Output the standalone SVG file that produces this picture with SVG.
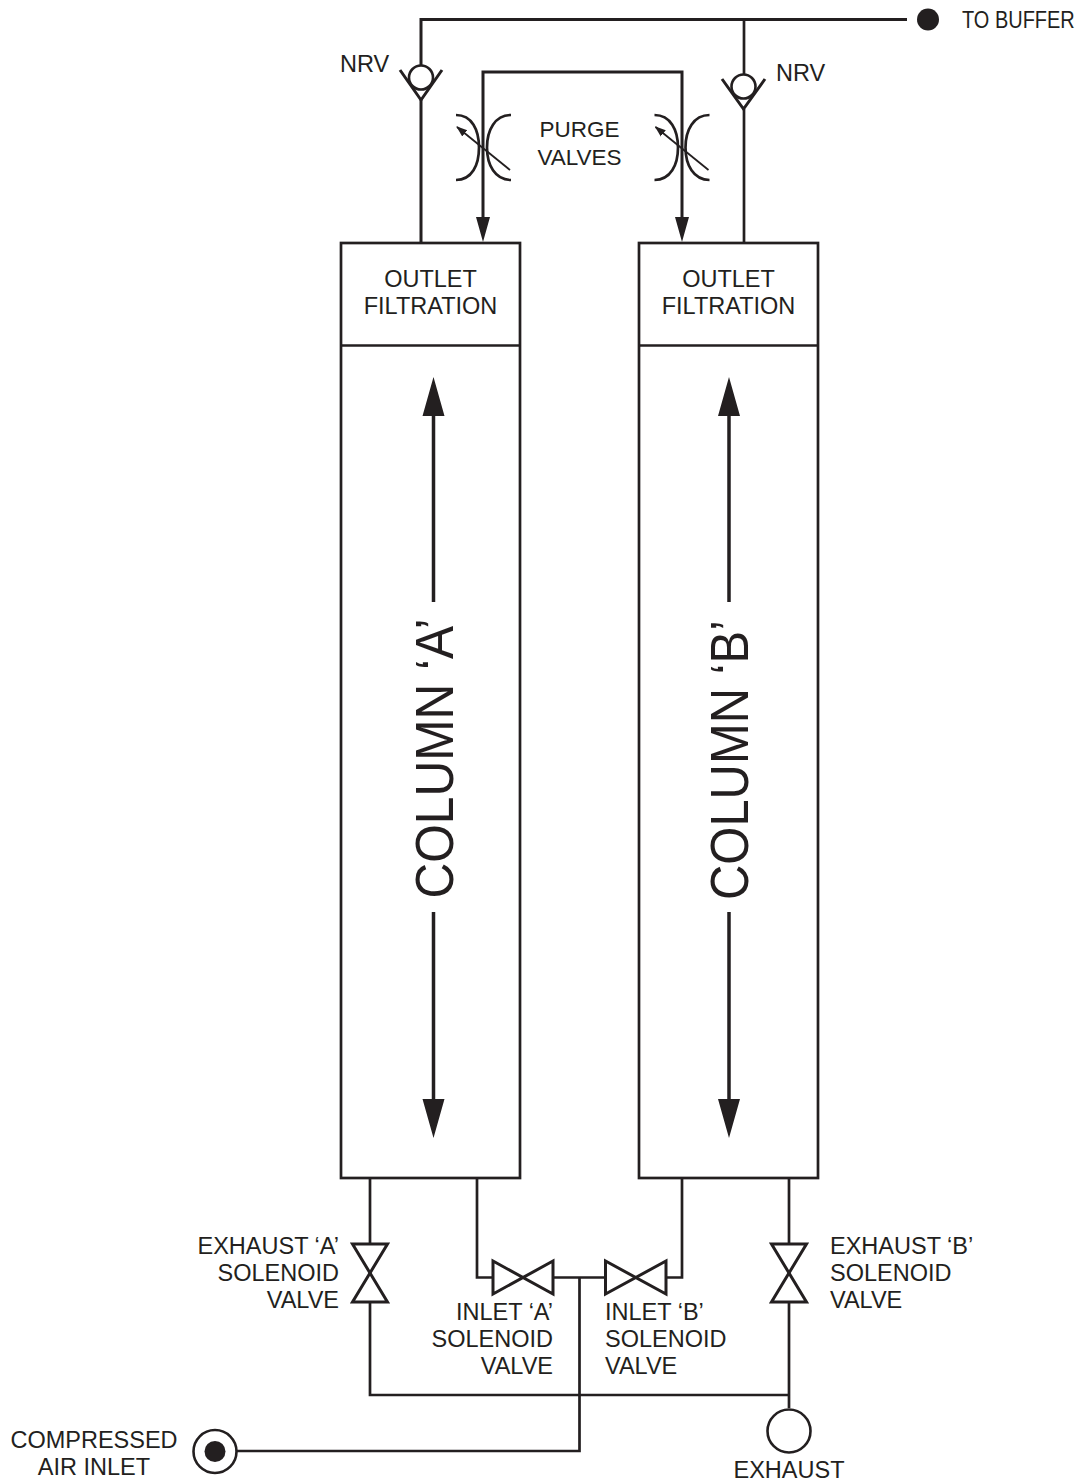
<svg xmlns="http://www.w3.org/2000/svg" width="1081" height="1483" viewBox="0 0 1081 1483">
<style>
text{font-family:"Liberation Sans",Arial,sans-serif;font-size:23.5px;fill:#231f20}
.e{text-anchor:end}.m{text-anchor:middle}
.p{font-size:22.5px}
.col{font-size:53px;text-anchor:middle}
.l{fill:none;stroke:#231f20;stroke-width:2.7}
.t{fill:none;stroke:#231f20;stroke-width:3}
.s{fill:none;stroke:#231f20;stroke-width:3.5}
.v{fill:#fff;stroke:#231f20;stroke-width:3;stroke-linejoin:miter}
.k{fill:#231f20;stroke:none}
.th{fill:none;stroke:#231f20;stroke-width:1.8}
.c{fill:#fff;stroke:#231f20;stroke-width:2.6}
</style>
<defs>
<marker id="sm" markerUnits="userSpaceOnUse" markerWidth="11" markerHeight="10" refX="10" refY="4.500" orient="auto" viewBox="0 0 11 9"><path d="M0 .5L11 4.500L0 8.500Z" fill="#231f20"/></marker>
</defs>
<g id="connectors">
<path class="t" d="M421 243V100M421 66V19.500H907"/>
<path class="l" d="M744 19.500V74M744 109V243"/>
<path class="t" d="M483 220V72H682V220"/>
<path class="k" d="M476 217H490L483 242ZM675 217H689L682 242Z"/>
<path class="l" d="M370 1178V1395H790M789 1178V1408"/>
<path class="l" d="M477 1178V1277.500H493M553 1277.500H605M666 1277.500H682V1178"/>
<path class="l" d="M579.500 1277.500V1451H237"/>
<path class="s" d="M433.500 394V602M433.500 912V1120M729 394V602M729 912V1120"/>
<path class="k" d="M433.500 377L444.500 416H422.500ZM433.500 1138L444.500 1099H422.500ZM729 377L740 416H718ZM729 1138L740 1099H718Z"/>
</g>
<g id="buffer-port"><circle class="k" cx="928" cy="19.500" r="11"/><text transform="translate(962 28) scale(.85 1)">TO BUFFER</text></g>
<g id="nrv-a"><path class="t" d="M400 70L421 100L442 70"/><circle class="c" cx="421" cy="77.500" r="12"/><text x="340" y="72">NRV</text></g>
<g id="nrv-b"><path class="t" d="M722 79L743.500 109L765 79"/><circle class="c" cx="743.500" cy="86.500" r="12"/><text x="776" y="81">NRV</text></g>
<g id="purge-a"><path class="l" d="M456 115C472 115 479 130 479 147.500C479 165 472 180 456 180M511 115C495 115 487 130 487 147.500C487 165 495 180 511 180"/><path class="th" d="M510 170L457 127" marker-end="url(#sm)"/></g>
<g id="purge-b"><path class="l" d="M654.500 115C670.500 115 678 130 678 147.500C678 165 670.500 180 654.500 180M709.500 115C693.500 115 685.500 130 685.500 147.500C685.500 165 693.500 180 709.500 180"/><path class="th" d="M708.500 170L655.500 127" marker-end="url(#sm)"/></g>
<g id="purge-label"><text class="m p" x="579.500" y="137">PURGE</text><text class="m p" x="579.500" y="164.500">VALVES</text></g>
<g id="column-a"><rect x="341" y="243" width="179" height="935" class="l"/><path class="l" d="M341 345.500H520"/><text class="m" x="430.500" y="286.500">OUTLET</text><text class="m" x="430.500" y="313.500">FILTRATION</text><text class="col" textLength="280" lengthAdjust="spacingAndGlyphs" transform="translate(452.500 758.500) rotate(-90)">COLUMN ‘A’</text></g>
<g id="column-b"><rect x="639" y="243" width="179" height="935" class="l"/><path class="l" d="M639 345.500H818"/><text class="m" x="728.500" y="286.500">OUTLET</text><text class="m" x="728.500" y="313.500">FILTRATION</text><text class="col" textLength="280" lengthAdjust="spacingAndGlyphs" transform="translate(747.500 760) rotate(-90)">COLUMN ‘B’</text></g>
<g id="exhaust-a"><path class="v" d="M352.500 1244H387.500L352.500 1302H387.500Z"/><text class="e" x="339" y="1254">EXHAUST ‘A’</text><text class="e" x="339" y="1281">SOLENOID</text><text class="e" x="339" y="1308">VALVE</text></g>
<g id="exhaust-b"><path class="v" d="M771.500 1244H806.500L771.500 1302H806.500Z"/><text x="830" y="1254">EXHAUST ‘B’</text><text x="830" y="1281">SOLENOID</text><text x="830" y="1308">VALVE</text></g>
<g id="inlet-a"><path class="v" d="M493 1261V1294L553 1261V1294Z"/><text class="e" x="553" y="1320">INLET ‘A’</text><text class="e" x="553" y="1347">SOLENOID</text><text class="e" x="553" y="1374">VALVE</text></g>
<g id="inlet-b"><path class="v" d="M605.500 1261V1294L666 1261V1294Z"/><text x="605" y="1320">INLET ‘B’</text><text x="605" y="1347">SOLENOID</text><text x="605" y="1374">VALVE</text></g>
<g id="air-inlet"><circle cx="215" cy="1451.500" r="21.500" class="c"/><circle class="k" cx="215" cy="1451.500" r="10.500"/><text class="m" x="94" y="1448">COMPRESSED</text><text class="m" x="94" y="1475">AIR INLET</text></g>
<g id="exhaust"><circle cx="789" cy="1431" r="21.500" class="c"/><text class="m" x="789" y="1478">EXHAUST</text></g>
</svg>
